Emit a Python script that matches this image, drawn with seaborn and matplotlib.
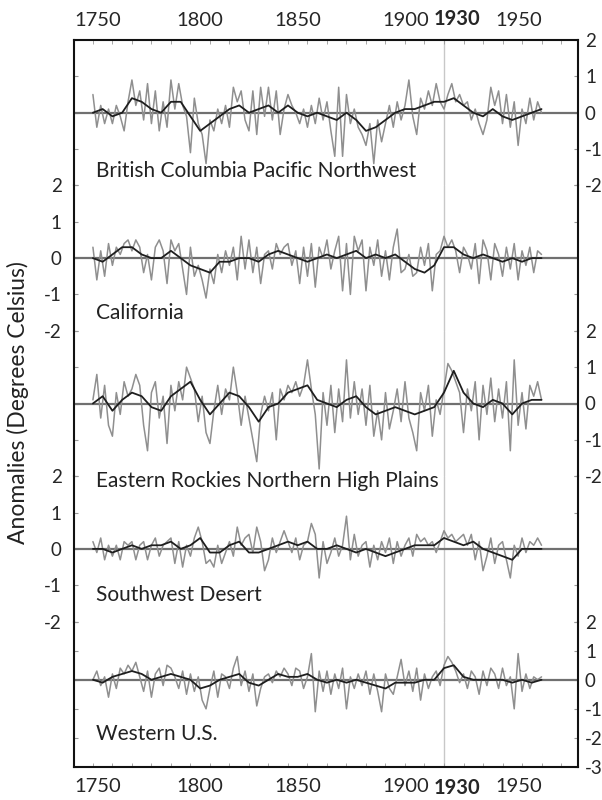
import numpy as np
import pandas as pd
import seaborn as sns
import matplotlib.pyplot as plt

sns.set_style("white")
plt.rcParams['font.family'] = ['Lato', 'DejaVu Sans']
plt.rcParams['axes.unicode_minus'] = False

regions = ["British Columbia Pacific Northwest", "California",
           "Eastern Rockies Northern High Plains", "Southwest Desert", "Western U.S."]

# raw series, every 2 years 1750..1980
years_raw = list(range(1750, 1981, 2))
# smoothed series, every 5 years 1750..1980
years_smooth = list(range(1750, 1981, 5))

bc_raw = [0.5, -0.4, 0.2, -0.3, 0.1, -0.3, 0.2, -0.1, -0.5, 0.3,
          0.9, 0.2, 0.6, -0.2, 0.8, -0.3, 0.6, -0.5, 0.3, -0.4,
          0.9, 0.1, 0.8, 0.2, -0.1, -1.1, 0.4, -0.3, -0.6, -1.4,
          -0.2, -0.5, 0.1, -0.3, 0.2, -0.4, 0.7, 0.3, 0.6, -0.2,
          -0.5, 0.6, -0.6, 0.7, -0.1, 0.7, -0.2, 0.6, -0.6, 0.1,
          0.5, 0.2, 0.0, -0.3, 0.1, -0.4, 0.2, -0.3, 0.4, -0.2,
          0.3, -0.5, -1.2, 0.7, -1.2, 0.5, -0.3, 0.1, -0.4, -0.6,
          -0.9, -0.3, -1.4, -0.2, -0.8, -0.3, 0.2, -0.4, 0.3, -0.2,
          0.2, 0.9, -0.1, -0.6, 0.4, 0.1, 0.6, 0.2, 0.8, 0.3,
          0.1, 0.5, 0.8, 0.3, 0.5, 0.2, 0.3, -0.2, 0.1, -0.3,
          -0.6, -0.2, 0.7, 0.2, 0.6, -0.3, 0.5, -0.4, 0.3, -0.9,
          0.1, -0.3, 0.4, -0.2, 0.3, 0.0]
ca_raw = [0.3, -0.6, 0.2, -0.5, 0.4, -0.2, 0.3, 0.1, 0.4, 0.5,
          0.2, 0.5, 0.3, -0.4, 0.1, -0.6, 0.3, 0.5, 0.2, -0.7,
          0.5, 0.2, 0.4, -0.3, -1.0, 0.3, -0.5, -0.2, -0.6, -1.1,
          -0.3, -0.7, 0.1, -0.4, 0.2, -0.2, 0.3, -0.6, 0.6, -0.3,
          0.5, -0.4, 0.3, -0.7, 0.1, 0.2, -0.3, 0.4, 0.1, 0.3,
          0.4, -0.2, 0.2, -0.7, 0.3, -0.5, 0.4, -0.8, 0.3, 0.0,
          0.5, -0.3, 0.2, 0.6, -0.9, 0.4, -1.0, 0.6, 0.2, 0.5,
          -0.9, 0.3, -0.2, 0.5, -0.5, 0.2, -0.6, 0.3, 0.8, -0.4,
          -0.3, 0.1, -0.5, -0.4, 0.3, -0.2, 0.4, -0.9, 0.1, 0.2,
          0.6, 0.3, 0.5, 0.2, -0.4, 0.3, 0.1, -0.3, 0.4, -0.7,
          0.5, 0.2, -0.6, 0.4, 0.1, -0.5, 0.3, -0.3, 0.4, -0.6,
          0.2, -0.2, 0.3, -0.4, 0.2, 0.1]
er_raw = [0.1, 0.8, -0.4, 0.5, -0.6, -0.9, 0.3, -0.3, 0.6, 0.2,
          0.4, 0.8, 0.5, -0.6, -1.3, 0.3, 0.6, -0.4, 0.2, -1.1,
          0.5, -0.2, 0.6, 0.1, 1.0, 0.7, 0.4, -0.5, 0.2, -0.8,
          -1.1, -0.2, 0.5, -0.3, 0.4, 0.1, 1.0, 0.3, -0.6, 0.2,
          -0.4, -1.0, -1.6, -0.3, 0.2, -0.2, 0.3, -1.0, 0.4, 0.1,
          0.5, 0.3, 0.6, 0.2, 0.5, 1.2, 0.4, -0.3, -1.8, 0.3,
          -0.6, 0.5, -0.8, 0.4, -0.5, 1.2, -0.4, 0.6, -0.3, 0.4,
          -0.6, 0.5, -0.9, -0.2, -1.0, 0.3, -0.7, -0.2, 0.4, -0.5,
          0.6, -0.4, -0.8, -1.3, 0.3, -0.2, 0.5, -0.9, 0.1, -0.3,
          0.4, 1.1, 0.9, 0.6, 0.3, -0.8, 0.4, -0.2, 0.6, -1.0,
          0.5, -0.3, 0.7, -0.5, 0.4, -0.4, 0.6, -1.3, 1.2, -0.6,
          0.3, -0.7, 0.5, 0.2, 0.6, 0.1]
sw_raw = [0.2, -0.1, 0.3, -0.3, 0.1, -0.2, 0.1, -0.3, 0.2, 0.1,
          0.2, -0.3, 0.1, 0.2, -0.3, 0.1, 0.3, -0.2, 0.1, 0.2,
          0.3, -0.4, 0.2, -0.5, 0.1, -0.2, 0.3, 0.6, 0.2, -0.4,
          -0.3, -0.5, 0.1, -0.4, -0.1, 0.2, -0.2, 0.6, 0.1, 0.3,
          0.4, -0.1, 0.6, 0.2, -0.6, -0.3, 0.3, -0.1, 0.2, 0.5,
          0.2, -0.1, 0.3, -0.3, 0.1, 0.2, 0.7, 0.4, -0.8, 0.2,
          -0.4, -0.1, 0.3, -0.2, 0.1, 0.9, -0.3, 0.4, -0.2, 0.1,
          0.2, -0.5, 0.1, -0.3, 0.2, -0.1, 0.3, -0.4, 0.2, -0.2,
          0.1, 0.3, -0.2, 0.4, 0.2, 0.3, 0.1, 0.2, -0.1, 0.2,
          0.5, 0.3, 0.4, 0.2, 0.3, 0.4, 0.1, 0.4, -0.3, 0.2,
          -0.6, -0.2, 0.3, -0.4, 0.1, 0.2, -0.3, -0.8, 0.1, -0.2,
          0.3, -0.1, 0.2, 0.1, 0.3, 0.1]
wu_raw = [0.0, 0.3, -0.2, 0.1, -0.6, 0.2, -0.3, 0.4, 0.2, 0.5,
          0.3, 0.6, 0.1, -0.4, 0.3, -0.6, 0.2, 0.4, -0.2, 0.5,
          0.4, 0.1, -0.3, 0.3, -0.5, 0.2, -0.4, 0.1, -0.7, -1.0,
          -0.3, 0.3, -0.6, 0.2, 0.1, -0.3, 0.4, 0.8, -0.2, 0.3,
          -0.4, 0.2, -0.9, -0.3, 0.1, 0.2, -0.1, 0.3, 0.1, 0.4,
          0.2, -0.2, 0.4, 0.3, -0.3, 0.1, 0.9, -1.1, 0.3, -0.4,
          0.3, -0.5, 0.2, -0.3, 0.4, -1.0, 0.1, -0.3, 0.2, -0.2,
          0.3, -0.5, 0.2, -0.4, -1.1, 0.2, -0.3, -0.5, 0.1, 0.7,
          -0.2, 0.3, -0.4, 0.4, -0.7, 0.2, -0.3, 0.1, 0.3, -0.2,
          0.5, 0.8, 0.6, 0.3, -0.1, 0.2, -0.3, 0.3, 0.1, -0.5,
          0.3, -0.2, 0.4, 0.2, -0.3, 0.4, -0.2, 0.1, -1.0, 0.9,
          -0.4, 0.2, -0.3, 0.1, 0.0, 0.1]

bc_smooth = [0.0, 0.1, -0.1, 0.0, 0.4, 0.3, 0.1, 0.0, 0.3, 0.3,
             -0.1, -0.5, -0.3, -0.1, 0.1, 0.2, 0.0, 0.1, 0.2, 0.0,
             0.2, 0.0, -0.1, 0.0, -0.1, -0.2, 0.0, -0.2, -0.5, -0.4,
             -0.2, 0.0, 0.1, 0.1, 0.2, 0.3, 0.3, 0.4, 0.2, 0.0,
             -0.1, 0.1, -0.1, -0.2, -0.1, 0.0, 0.1]
ca_smooth = [0.0, -0.1, 0.1, 0.3, 0.3, 0.1, 0.0, 0.0, 0.2, 0.0,
             -0.2, -0.3, -0.4, -0.1, -0.1, 0.0, 0.0, -0.1, 0.1, 0.2,
             0.1, 0.0, -0.1, 0.0, 0.1, 0.0, 0.1, 0.2, 0.0, 0.1,
             0.0, 0.1, -0.1, -0.3, -0.4, -0.2, 0.3, 0.3, 0.1, 0.0,
             0.1, 0.0, -0.1, 0.0, -0.1, 0.0, 0.0]
er_smooth = [0.0, 0.2, -0.2, 0.1, 0.3, 0.2, -0.1, -0.2, 0.2, 0.4,
             0.6, 0.1, -0.3, 0.0, 0.3, 0.2, -0.1, -0.5, -0.1, 0.0,
             0.3, 0.4, 0.5, 0.1, 0.0, -0.1, 0.1, 0.2, -0.1, -0.3,
             -0.2, -0.1, -0.2, -0.3, -0.2, -0.1, 0.3, 0.9, 0.3, 0.0,
             -0.1, 0.1, 0.0, -0.3, 0.0, 0.1, 0.1]
sw_smooth = [0.0, 0.0, -0.1, 0.0, 0.1, 0.0, 0.1, 0.1, 0.2, 0.0,
             0.1, 0.3, -0.1, -0.1, 0.1, 0.2, -0.1, -0.1, 0.0, 0.1,
             0.2, 0.1, 0.2, 0.0, 0.0, 0.1, 0.0, -0.1, 0.0, -0.1,
             -0.2, -0.1, 0.0, 0.1, 0.1, 0.1, 0.3, 0.2, 0.1, 0.2,
             0.0, -0.1, -0.2, -0.3, 0.0, 0.0, 0.0]
wu_smooth = [0.0, -0.1, 0.1, 0.2, 0.3, 0.2, 0.0, 0.1, 0.2, 0.1,
             0.0, -0.3, -0.2, 0.0, 0.1, 0.2, -0.1, -0.2, 0.0, 0.2,
             0.1, 0.1, 0.2, 0.0, -0.1, 0.0, -0.1, 0.0, -0.1, -0.2,
             -0.3, -0.1, -0.1, -0.1, 0.0, 0.0, 0.4, 0.5, 0.1, 0.0,
             0.0, 0.0, 0.0, -0.1, 0.0, -0.1, 0.0]

raw_series = [bc_raw, ca_raw, er_raw, sw_raw, wu_raw]
smooth_series = [bc_smooth, ca_smooth, er_smooth, sw_smooth, wu_smooth]

# tick labels and where they sit on the printed axis
xlabels = ["1750", "1800", "1850", "1900", "1930", "1950"]
xlabel_pos = [1752.6, 1805, 1855, 1910.5, 1936.7, 1968.5]
title_ypos = [0.10, 0.124, -0.03, 0.18, 0.23]

fig, axes = plt.subplots(5, 1, sharex=True, figsize=(6.02, 8), dpi=100,
                         gridspec_kw=dict(hspace=0))
fig.subplots_adjust(left=74/602, right=578/602, top=1-40/800, bottom=1-767/800)

for i, ax in enumerate(axes):
    ax.set_facecolor("none")
    df_raw = pd.DataFrame({"year": years_raw, "value": raw_series[i]})
    df_sm = pd.DataFrame({"year": years_smooth, "value": smooth_series[i]})
    ax.axhline(0, color="#707070", lw=1.6, zorder=1)
    ax.axvline(1930, color="#c8c8c8", lw=1.0, zorder=0)
    sns.lineplot(data=df_raw, x="year", y="value", ax=ax, estimator=None,
                 color="#8f8f8f", lw=1.1, zorder=2)
    sns.lineplot(data=df_sm, x="year", y="value", ax=ax, estimator=None,
                 color="#1e1e1e", lw=1.3, zorder=3)
    ax.set_xlabel("")
    ax.set_ylabel("")

    if i == 4:
        ax.set_ylim(-3, 2)
        ax.set_yticks(range(-3, 3))
    else:
        ax.set_ylim(-2, 2)
        ax.set_yticks(range(-2, 3))
    on_left = i in (1, 3)
    ax.tick_params(axis="y", direction="in", left=True, right=True, length=3,
                   color="#999999", labelsize=13.5, labelleft=on_left,
                   labelright=not on_left, pad=9 if on_left else 5)

    for side in ("left", "right", "top", "bottom"):
        ax.spines[side].set_color("#111111")
        ax.spines[side].set_linewidth(1.5)
    if i > 0:
        ax.spines["top"].set_visible(False)
    if i < 4:
        ax.spines["bottom"].set_visible(False)

    ax.text(1751.5, title_ypos[i], regions[i], transform=ax.get_xaxis_transform(),
            fontsize=15, va="center", ha="left", color="#222222", zorder=5)

ax0 = axes[0]
ax0.set_xlim(1740.3, 1998.7)
ax0.set_xticks(xlabel_pos)
ax0.set_xticks(range(1750, 1991, 10), minor=True)
ax0.set_xticklabels(xlabels)

for i, ax in enumerate(axes):
    ax.tick_params(axis="x", which="major", length=0, labelsize=14.5,
                   top=False, bottom=False,
                   labeltop=(i == 0), labelbottom=(i == 4), pad=8)
    ax.tick_params(axis="x", which="minor", direction="in", length=3,
                   color="#999999", top=(i == 0), bottom=(i == 4))
    ticks = ax.xaxis.get_major_ticks()
    ticks[4].label1.set_fontweight("bold")
    ticks[4].label2.set_fontweight("bold")

fig.text(18/602, 1 - 403/800, "Anomalies (Degrees Celsius)", rotation=90,
         fontsize=16.5, va="center", ha="center", color="#222222")

fig.savefig("out.png", dpi=100)
